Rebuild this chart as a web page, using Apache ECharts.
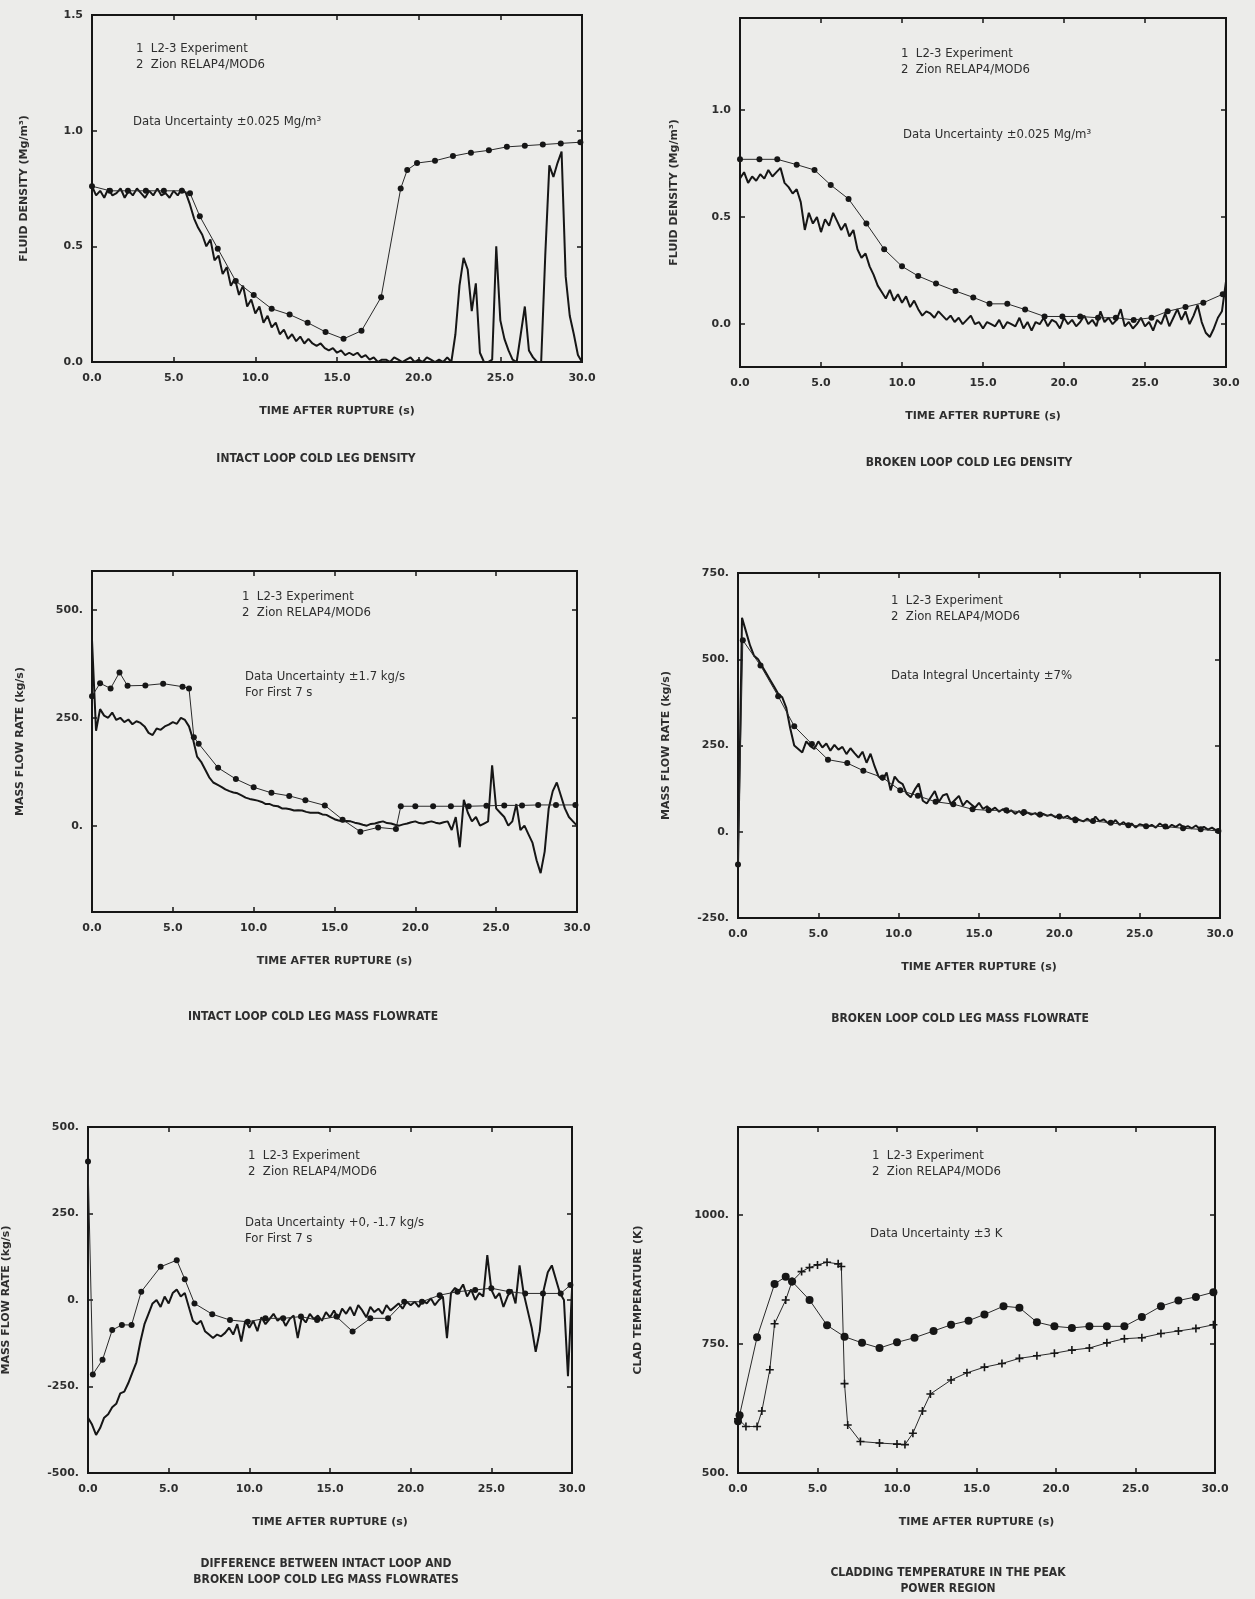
<!DOCTYPE html>
<html>
<head>
<meta charset="utf-8">
<script src="https://cdn.jsdelivr.net/npm/echarts@6/dist/echarts.min.js"></script>
<style>
  html, body { margin: 0; padding: 0; background: #ececea; }
  #main { width: 1255px; height: 1599px; }
</style>
</head>
<body>
<div id="main"></div>
<script>
// ---- data ----
var xTicks = [0, 5, 10, 15, 20, 25, 30];

// experiment traces sampled every 0.25 s (0 .. 30 s)
var p1Exp = [
  0.76, 0.72, 0.74, 0.71, 0.75, 0.72, 0.73, 0.75, 0.71, 0.74, 0.72, 0.75,
  0.73, 0.71, 0.74, 0.72, 0.75, 0.72, 0.73, 0.71, 0.74, 0.72, 0.75, 0.73,
  0.68, 0.62, 0.58, 0.55, 0.50, 0.53, 0.44, 0.46, 0.38, 0.41, 0.33, 0.36,
  0.29, 0.33, 0.24, 0.27, 0.21, 0.24, 0.17, 0.20, 0.15, 0.17, 0.12, 0.14,
  0.10, 0.12, 0.09, 0.11, 0.08, 0.10, 0.08, 0.07, 0.08, 0.06, 0.05, 0.06,
  0.04, 0.05, 0.03, 0.04, 0.03, 0.04, 0.02, 0.03, 0.01, 0.02, 0.00, 0.01,
  0.01, 0.00, 0.02, 0.01, 0.00, 0.01, 0.02, 0.00, 0.01, 0.00, 0.02, 0.01,
  0.00, 0.01, 0.00, 0.02, 0.00, 0.12, 0.33, 0.45, 0.40, 0.22, 0.34, 0.04,
  0.00, 0.00, 0.01, 0.50, 0.18, 0.10, 0.05, 0.01, 0.00, 0.12, 0.24, 0.05,
  0.02, 0.00, 0.00, 0.46, 0.85, 0.80, 0.86, 0.91, 0.37, 0.20, 0.12, 0.03,
  0.00
];
var p2Exp = [
  0.68, 0.71, 0.66, 0.69, 0.67, 0.70, 0.68, 0.72, 0.69, 0.71, 0.73, 0.66,
  0.64, 0.61, 0.63, 0.57, 0.44, 0.52, 0.47, 0.50, 0.43, 0.49, 0.46, 0.52,
  0.48, 0.44, 0.47, 0.41, 0.44, 0.35, 0.31, 0.33, 0.27, 0.23, 0.18, 0.15,
  0.12, 0.16, 0.11, 0.14, 0.10, 0.13, 0.08, 0.11, 0.07, 0.04, 0.06, 0.05,
  0.03, 0.06, 0.04, 0.02, 0.04, 0.01, 0.03, 0.00, 0.02, 0.04, 0.00, 0.01,
  -0.02, 0.01, 0.00, -0.01, 0.02, -0.02, 0.01, 0.00, -0.01, 0.03, -0.02, 0.01,
  -0.03, 0.01, 0.00, 0.03, -0.01, 0.02, 0.01, -0.02, 0.03, 0.00, 0.02, -0.01,
  0.01, 0.04, 0.00, 0.02, -0.01, 0.06, 0.01, 0.03, 0.00, 0.02, 0.07, -0.01,
  0.01, -0.02, 0.00, 0.03, -0.01, 0.01, -0.03, 0.02, 0.00, 0.05, -0.01, 0.03,
  0.07, 0.02, 0.06, 0.00, 0.04, 0.09, 0.01, -0.04, -0.06, -0.02, 0.03, 0.06,
  0.20
];
var p3Exp = [
  430, 220, 270, 255, 250, 262, 245, 250, 240, 246, 235, 242,
  238, 230, 215, 210, 225, 222, 230, 234, 240, 236, 250, 245,
  230, 200, 160, 148, 130, 112, 100, 95, 90, 84, 80, 77,
  75, 70, 65, 62, 60, 58, 55, 50, 50, 46, 45, 40,
  40, 38, 35, 36, 35, 32, 30, 30, 30, 26, 25, 20,
  15, 12, 10, 11, 10, 7, 5, 2, 0, 4, 5, 8,
  10, 6, 5, 2, 0, 3, 5, 8, 10, 6, 5, 8,
  10, 7, 5, 8, 10, -10, 20, -50, 60, 30, 10, 20,
  0, 5, 10, 140, 40, 30, 20, 0, 10, 50, -10, 0,
  -20, -40, -80, -110, -60, 40, 80, 100, 70, 40, 20, 10,
  0
];
var p4Exp = [
  -100, 620, 580, 540, 510, 500, 480, 460, 440, 420, 400, 390,
  360, 300, 250, 240, 230, 262, 248, 240, 262, 244, 256, 235,
  252, 238, 246, 225, 242, 228, 215, 232, 200, 226, 190, 160,
  150, 172, 120, 160, 145, 138, 110, 100, 122, 140, 90, 82,
  100, 118, 86, 105, 110, 80, 92, 104, 76, 90, 80, 70,
  84, 66, 74, 62, 70, 58, 66, 55, 62, 52, 60, 48,
  56, 50, 54, 44, 52, 46, 50, 42, 48, 40, 46, 36,
  42, 34, 30, 38, 28, 44, 30, 36, 26, 22, 34, 20,
  28, 16, 24, 12, 22, 18, 14, 20, 12, 24, 16, 10,
  20, 14, 22, 12, 16, 10, 18, 8, 14, 6, 12, 4,
  2
];
var p5Exp = [
  -340, -360, -390, -370, -340, -330, -310, -300, -270, -265, -240, -210,
  -180, -120, -70, -40, -10, 0, -20, 10, -10, 20, 30, 10,
  20, -20, -60, -70, -60, -90, -100, -110, -100, -105, -95, -80,
  -100, -70, -120, -60, -80, -60, -90, -50, -70, -55, -40, -60,
  -50, -75, -55, -45, -110, -50, -65, -40, -55, -45, -60, -35,
  -50, -30, -55, -25, -40, -20, -45, -15, -30, -50, -20, -35,
  -25, -40, -15, -30, -20, -10, -25, -5, -15, -5, -20, 0,
  -10, 5, -15, 0, 10, -110, 20, 35, 25, 45, 10, 30,
  0, 20, 10, 130, 30, 5, 20, -20, 10, 30, -10, 100,
  20, -30, -80, -150, -90, 30, 80, 100, 60, 20, 0, -220,
  30
];

// Zion RELAP4/MOD6 curves (with markers)
var p1ModT = [0, 1.1, 2.2, 3.3, 4.4, 5.5, 6.0, 6.6, 7.7, 8.8, 9.9, 11.0, 12.1, 13.2, 14.3, 15.4, 16.5, 17.7, 18.9, 19.3, 19.9, 21.0, 22.1, 23.2, 24.3, 25.4, 26.5, 27.6, 28.7, 29.9];
var p1ModV = [0.76, 0.74, 0.74, 0.74, 0.74, 0.74, 0.73, 0.63, 0.49, 0.35, 0.29, 0.23, 0.205, 0.17, 0.13, 0.10, 0.135, 0.28, 0.75, 0.83, 0.86, 0.87, 0.89, 0.905, 0.915, 0.93, 0.935, 0.94, 0.945, 0.95];

var p2ModT = [0, 1.2, 2.3, 3.5, 4.6, 5.6, 6.7, 7.8, 8.9, 10.0, 11.0, 12.1, 13.3, 14.4, 15.4, 16.5, 17.6, 18.8, 19.9, 21.0, 22.1, 23.2, 24.3, 25.4, 26.4, 27.5, 28.6, 29.8];
var p2ModV = [0.77, 0.77, 0.77, 0.745, 0.72, 0.65, 0.585, 0.47, 0.35, 0.27, 0.225, 0.19, 0.155, 0.125, 0.095, 0.095, 0.068, 0.036, 0.036, 0.036, 0.03, 0.03, 0.02, 0.03, 0.06, 0.08, 0.10, 0.14];

var p3ModT = [0, 0.5, 1.15, 1.7, 2.2, 3.3, 4.4, 5.6, 6.0, 6.3, 6.6, 7.8, 8.9, 10.0, 11.1, 12.2, 13.2, 14.4, 15.5, 16.6, 17.7, 18.8, 19.1, 20.0, 21.1, 22.2, 23.3, 24.4, 25.5, 26.6, 27.6, 28.7, 29.9];
var p3ModV = [300, 330, 318, 355, 324, 325, 329, 322, 318, 205, 190, 134, 108, 89, 76, 69, 59, 47, 14, -14, -4, -8, 45, 45, 45, 45, 45, 46, 47, 47, 48, 48, 48];

var p4ModT = [0, 0.3, 1.4, 2.5, 3.5, 4.6, 5.6, 6.8, 7.8, 9.0, 10.1, 11.2, 12.3, 13.4, 14.6, 15.6, 16.7, 17.8, 18.8, 20.0, 21.0, 22.1, 23.2, 24.3, 25.4, 26.6, 27.7, 28.8, 29.9];
var p4ModV = [-95, 555, 482, 393, 306, 254, 209, 199, 177, 157, 120, 104, 87, 80, 65, 62, 62, 57, 50, 44, 33, 31, 26, 19, 16, 15, 10, 7, 2];

var p5ModT = [0, 0.3, 0.9, 1.5, 2.1, 2.7, 3.3, 4.5, 5.5, 6.0, 6.6, 7.7, 8.8, 9.9, 11.0, 12.1, 13.2, 14.2, 15.4, 16.4, 17.5, 18.6, 19.6, 20.7, 21.8, 22.9, 24.0, 25.0, 26.1, 27.1, 28.2, 29.3, 29.9];
var p5ModV = [400, -215, -173, -87, -72, -72, 24, 96, 115, 60, -10, -41, -58, -63, -53, -53, -48, -58, -48, -91, -53, -53, -5, -5, 14, 24, 29, 34, 24, 19, 19, 19, 43];

var p6ModT = [0, 0.1, 1.2, 2.3, 3.0, 3.4, 4.5, 5.6, 6.7, 7.8, 8.9, 10.0, 11.1, 12.3, 13.4, 14.5, 15.5, 16.7, 17.7, 18.8, 19.9, 21.0, 22.1, 23.2, 24.3, 25.4, 26.6, 27.7, 28.8, 29.9];
var p6ModV = [600, 612, 763, 866, 880, 871, 835, 786, 764, 752, 742, 753, 762, 775, 787, 795, 807, 823, 820, 792, 784, 781, 784, 784, 784, 802, 823, 834, 841, 850];

// clad temperature experiment is a smooth trace
var p6ExpT = [0, 0.5, 1.2, 1.5, 2.0, 2.3, 3.0, 3.4, 4.0, 4.5, 5.0, 5.6, 6.3, 6.5, 6.7, 6.9, 7.7, 8.9, 10.0, 10.5, 11.0, 11.6, 12.1, 13.4, 14.4, 15.5, 16.6, 17.7, 18.8, 19.9, 21.0, 22.1, 23.2, 24.3, 25.4, 26.6, 27.7, 28.8, 29.9];
var p6ExpV = [605, 590, 590, 620, 700, 789, 835, 871, 890, 898, 903, 908, 905, 900, 673, 593, 561, 558, 556, 555, 577, 620, 653, 680, 694, 705, 712, 722, 727, 732, 738, 742, 752, 760, 762, 770, 775, 780, 787];

// ---- helpers ----
var ink = '#161616';
var textInk = '#2e2e2e';
var tBase = [];
for (var k = 0; k <= 120; k++) tBase.push(k * 0.25);

function pairs(ts, vs) {
  var out = [];
  for (var i = 0; i < vs.length; i++) out.push([ts[i], vs[i]]);
  return out;
}

var axisFont = { fontFamily: 'DejaVu Sans', fontWeight: 'bold', fontSize: 11, color: textInk };
var nameFont = { fontFamily: 'DejaVu Sans', fontWeight: 'bold', fontSize: 11, color: textInk };

/**
 * panel layout: grid box in pixels, y range and labels
 */
var panels = [
  { left: 92, top: 15, width: 490, height: 347, min: 0, max: 1.5, interval: 0.5, dec: 1,
    yName: 'FLUID DENSITY (Mg/m³)', yGap: 62 },
  { left: 740, top: 18, width: 486, height: 349, min: -0.2, max: 1.43, ticks: [0, 0.5, 1.0], dec: 1,
    yName: 'FLUID DENSITY (Mg/m³)', yGap: 60 },
  { left: 92, top: 571, width: 485, height: 341, min: -200, max: 590, ticks: [0, 250, 500], dec: 0,
    yName: 'MASS FLOW RATE (kg/s)', yGap: 66 },
  { left: 738, top: 573, width: 482, height: 345, min: -250, max: 750, interval: 250, dec: 0,
    yName: 'MASS FLOW RATE (kg/s)', yGap: 66 },
  { left: 87, top: 1127, width: 485, height: 346, min: -500, max: 500, interval: 250, dec: 0,
    yName: 'MASS FLOW RATE (kg/s)', yGap: 76 },
  { left: 738, top: 1127, width: 477, height: 346, min: 500, max: 1170, ticks: [500, 750, 1000], dec: 0,
    yName: 'CLAD TEMPERATURE (K)', yGap: 94 }
];

var grids = [], xAxes = [], yAxes = [], series = [];

panels.forEach(function(p, i) {
  grids.push({ left: p.left, top: p.top, width: p.width, height: p.height,
    show: true, borderColor: ink, borderWidth: 2, backgroundColor: 'transparent' });

  var dec = p.dec;
  var yFmt = function(v) { return dec ? v.toFixed(1) : Math.round(v) + '.'; };

  xAxes.push({
    gridIndex: i, type: 'value', min: 0, max: 30, interval: 5,
    axisLine: { onZero: false, lineStyle: { color: ink, width: 2 } },
    axisTick: { inside: true, length: 5, lineStyle: { color: ink, width: 1.5 } },
    axisLabel: Object.assign({ margin: 11, formatter: function(v) { return v.toFixed(1); } }, axisFont),
    splitLine: { show: false },
    name: 'TIME AFTER RUPTURE (s)', nameLocation: 'middle', nameGap: 44,
    nameTextStyle: nameFont
  });
  xAxes.push({
    gridIndex: i, type: 'value', min: 0, max: 30, interval: 5, position: 'top',
    axisLine: { onZero: false, lineStyle: { color: ink, width: 2 } },
    axisTick: { inside: true, length: 5, lineStyle: { color: ink, width: 1.5 } },
    axisLabel: { show: false }, splitLine: { show: false }
  });

  var yMain = {
    gridIndex: i, type: 'value', min: p.min, max: p.max,
    axisLine: { onZero: false, lineStyle: { color: ink, width: 2 } },
    axisTick: { inside: true, length: 5, lineStyle: { color: ink, width: 1.5 } },
    axisLabel: Object.assign({ margin: 9, formatter: yFmt }, axisFont),
    splitLine: { show: false },
    name: p.yName, nameLocation: 'middle', nameRotate: 90, nameGap: p.yGap,
    nameTextStyle: nameFont
  };
  var yRight = {
    gridIndex: i, type: 'value', min: p.min, max: p.max, position: 'right',
    axisLine: { onZero: false, lineStyle: { color: ink, width: 2 } },
    axisTick: { inside: true, length: 5, lineStyle: { color: ink, width: 1.5 } },
    axisLabel: { show: false }, splitLine: { show: false }
  };
  if (p.interval) {
    yMain.interval = p.interval;
    yRight.interval = p.interval;
  } else {
    yMain.axisTick.customValues = p.ticks;
    yMain.axisLabel.customValues = p.ticks;
    yRight.axisTick.customValues = p.ticks;
  }
  yAxes.push(yMain, yRight);
});

function expSeries(i, data, width) {
  return {
    type: 'line', xAxisIndex: 2 * i, yAxisIndex: 2 * i, data: data,
    showSymbol: false, symbol: 'none', silent: true,
    lineStyle: { color: ink, width: width || 2 }
  };
}
function modSeries(i, data, size) {
  return {
    type: 'line', xAxisIndex: 2 * i, yAxisIndex: 2 * i, data: data,
    symbol: 'circle', symbolSize: size || 6, showSymbol: true, silent: true,
    itemStyle: { color: ink }, lineStyle: { color: '#2a2a2a', width: 1 }
  };
}

series.push(expSeries(0, pairs(tBase, p1Exp)), modSeries(0, pairs(p1ModT, p1ModV)));
series.push(expSeries(1, pairs(tBase, p2Exp)), modSeries(1, pairs(p2ModT, p2ModV)));
series.push(expSeries(2, pairs(tBase, p3Exp)), modSeries(2, pairs(p3ModT, p3ModV)));
series.push(expSeries(3, pairs(tBase, p4Exp)), modSeries(3, pairs(p4ModT, p4ModV)));
series.push(expSeries(4, pairs(tBase, p5Exp)), modSeries(4, pairs(p5ModT, p5ModV)));
series.push(modSeries(5, pairs(p6ModT, p6ModV), 8));
series.push({
  type: 'line', xAxisIndex: 10, yAxisIndex: 10, data: pairs(p6ExpT, p6ExpV),
  symbol: 'path://M4,0H6V4H10V6H6V10H4V6H0V4H4Z', symbolSize: 8, showSymbol: true, silent: true,
  itemStyle: { color: ink }, lineStyle: { color: '#2a2a2a', width: 1 }
});

// annotation texts
var noteFont = '13px "DejaVu Sans Condensed"';
var capFont = 'bold 12px "DejaVu Sans Condensed"';
function note(x, y, txt) {
  return { type: 'text', left: x, top: y, silent: true,
    style: { text: txt, font: noteFont, fill: textInk, lineHeight: 16 } };
}
function caption(cx, y, txt) {
  return { type: 'text', x: cx, y: y, silent: true,
    style: { text: txt, font: capFont, fill: textInk, align: 'center', verticalAlign: 'middle', lineHeight: 16 } };
}
var legendTxt = '1  L2-3 Experiment\n2  Zion RELAP4/MOD6';

var graphics = [
  note(136, 41, legendTxt),
  note(133, 114, 'Data Uncertainty ±0.025 Mg/m³'),
  caption(316, 459, 'INTACT LOOP COLD LEG DENSITY'),

  note(901, 46, legendTxt),
  note(903, 127, 'Data Uncertainty ±0.025 Mg/m³'),
  caption(969, 463, 'BROKEN LOOP COLD LEG DENSITY'),

  note(242, 589, legendTxt),
  note(245, 669, 'Data Uncertainty ±1.7 kg/s\nFor First 7 s'),
  caption(313, 1017, 'INTACT LOOP COLD LEG MASS FLOWRATE'),

  note(891, 593, legendTxt),
  note(891, 668, 'Data Integral Uncertainty ±7%'),
  caption(960, 1019, 'BROKEN LOOP COLD LEG MASS FLOWRATE'),

  note(248, 1148, legendTxt),
  note(245, 1215, 'Data Uncertainty +0, -1.7 kg/s\nFor First 7 s'),
  caption(326, 1572, 'DIFFERENCE BETWEEN INTACT LOOP AND\nBROKEN LOOP COLD LEG MASS FLOWRATES'),

  note(872, 1148, legendTxt),
  note(870, 1226, 'Data Uncertainty ±3 K'),
  caption(948, 1581, 'CLADDING TEMPERATURE IN THE PEAK\nPOWER REGION')
];

var chart = echarts.init(document.getElementById('main'));
chart.setOption({
  backgroundColor: '#ececea',
  animation: false,
  grid: grids,
  xAxis: xAxes,
  yAxis: yAxes,
  series: series,
  graphic: graphics
});
</script>
</body>
</html>
